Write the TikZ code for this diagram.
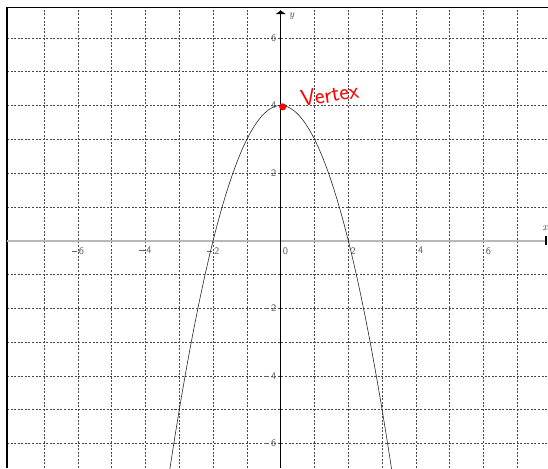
\documentclass[tikz,border=0pt]{standalone}
\usetikzlibrary{arrows.meta}
\begin{document}
\begin{tikzpicture}[x=1cm,y=1cm,
  gridline/.style={black!72, line width=0.45pt, dash pattern=on 1.7pt off 1.3pt},
  ticklab/.style={font=\sffamily\fontsize{8.5}{8.5}\selectfont, text=black!62, inner sep=0pt},
  axlab/.style={font=\itshape\fontsize{9}{9}\selectfont, text=black!75, inner sep=0pt},
  curve/.style={black!85, line width=0.5pt},
  frameline/.style={black, line width=1.8pt}
]
\useasboundingbox (-8.305,-6.725) rectangle (7.908,7.121);
% grid
\foreach \x in {-7,...,7} \draw[gridline] (\x,-6.725) -- (\x,6.9);
\foreach \y in {-6,...,6} \draw[gridline] (-8.098,\y) -- (7.908,\y);
% frame
\coordinate (fbl) at (-8.098,-6.725);
\coordinate (ftl) at (-8.098,6.9);
\coordinate (ftr) at (7.908,6.9);
\draw[frameline] (fbl) -- (ftl);
\draw[black, line width=0.9pt] (ftl) -- (ftr);
% x axis
\coordinate (xl) at (-8.098,0);
\coordinate (xr) at (7.86,0);
\draw[black!28, line width=1.7pt] (xl) -- (xr);
\draw[black, line width=1.5pt] ([yshift=-0.13cm]xr) -- ([yshift=0.13cm]xr);
% y axis
\coordinate (yb) at (0,-6.725);
\coordinate (yt) at (0,6.81);
\draw[black, line width=0.55pt, -{Triangle[width=0.3cm,length=0.11cm]}] (yb) -- (yt);
% axis names
\node[axlab] (xname) at (7.82,0.38) {x};
\node[axlab] (yname) at (0.32,6.64) {y};
% x tick labels
\foreach \x in {-6,-4,-2} \node[ticklab, anchor=north west] (xt\x) at (\x+0.02,-0.19) {\llap{\rule[2.6pt]{4.5pt}{0.5pt}\kern1.5pt}\the\numexpr-\x\relax};
\foreach \x in {0,2,4,6} \node[ticklab, anchor=north west] (xt\x) at (\x+0.06,-0.19) {\x};
% y tick labels
\foreach \y in {2,4,6} \node[ticklab, anchor=east] (yt\y) at (-0.12,\y) {\y};
\foreach \y in {-2,-4,-6} \node[ticklab, anchor=east] (yt\y) at (-0.12,\y) {\rule[2.6pt]{4.5pt}{0.5pt}\kern1.5pt\the\numexpr-\y\relax};
% parabola
\begin{scope}
\clip (-8.3,-6.725) rectangle (7.9,6.9);
\draw[curve] plot[domain=-3.35:3.35, samples=120, smooth] (\x,{4-\x*\x});
\end{scope}
% vertex
\fill[red] (0.06,3.96) circle (0.105);
\node[red, rotate=9, font=\sffamily\fontsize{19.5}{19.5}\selectfont, inner sep=0pt] (vlab) at (1.45,4.33) {Vertex};
\end{tikzpicture}
\end{document}
